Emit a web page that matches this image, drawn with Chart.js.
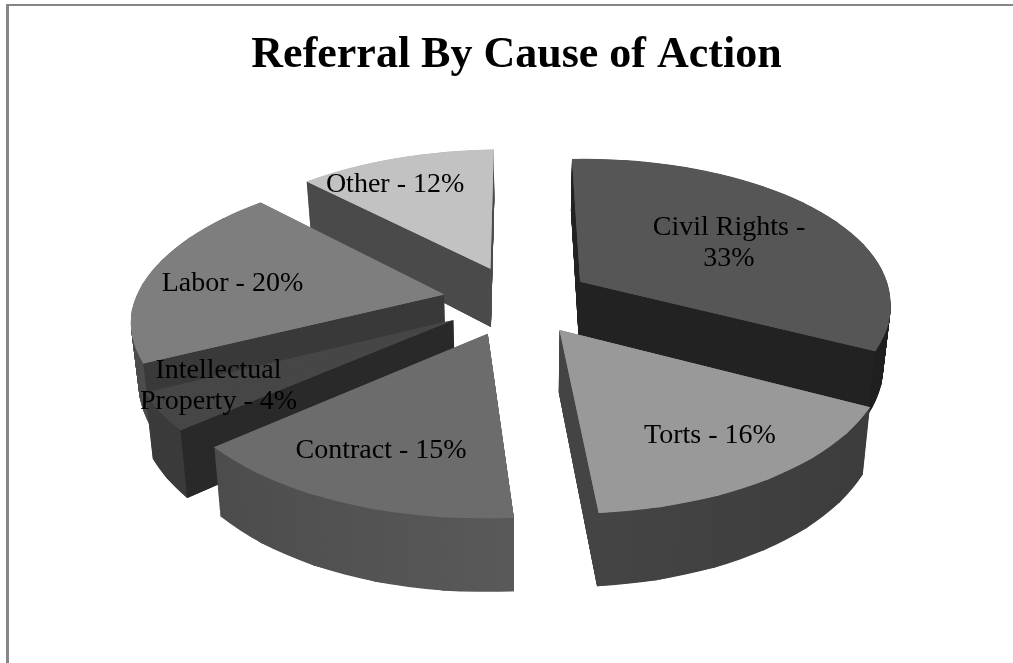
<!DOCTYPE html>
<html>
<head>
<meta charset="utf-8">
<script src="https://cdn.jsdelivr.net/npm/chart.js@4"></script>
<style>
  html, body { margin: 0; padding: 0; background: #fff; }
  #frame { position: absolute; left: 6px; top: 4px; width: 1007px; height: 659px; border-top: 2px solid #868686; border-left: 3px solid #868686; box-sizing: border-box; }
  #wrap { position: absolute; left: 0; top: 0; width: 1013px; height: 663px; }
</style>
</head>
<body>
<div id="frame"></div>
<div id="wrap"><canvas id="pieChart" width="1013" height="663"></canvas></div>
<script>
const titleText = 'Referral By Cause of Action';
const categories = ['Civil Rights', 'Torts', 'Contract', 'Intellectual Property', 'Labor', 'Other'];
const shares = [33, 16, 15, 4, 20, 12];
const labelLines = [['Civil Rights -', '33%'], ['Torts - 16%'], ['Contract - 15%'], ['Intellectual', 'Property - 4%'], ['Labor - 20%'], ['Other - 12%']];

const topColors = ['#565656', '#999999', '#6c6c6c', '#464646', '#7e7e7e', '#c2c2c2'];
const faceColors = ['#222222', '#444444', '#3c3c3c', '#292929', '#393939', '#4a4a4a'];
const rimLeft = ['#2c2c2c', '#505050', '#474747', '#3c3c3c', '#4a4a4a', '#555555'];
const rimRight = ['#1e1e1e', '#3a3a3a', '#6a6a6a', '#2e2e2e', '#5e5e5e', '#555555'];
// 라벨 위치 미세 조정 (화면 px)
const labelNudge = [[-4, 6], [27, 19], [-21, 19], [-59, 11], [-28, 3], [-34, -12]];

// 원근 투영 값
const cam = { cx: 517, cy: 300, a: 311, b: 146, p: 0.15, h: 60, explode: 0.24, shear: 0.02, roll: -4, lean: 0.02 };

const project = (x, y, z) => {
    const w = 1 / (1 - cam.p * y);
    const sx = cam.a * (x + cam.shear * Math.max(y, 0)) * w * (1 - cam.lean * z);
    return { x: cam.cx + sx, y: cam.cy + cam.b * y * w + z * cam.h * w + cam.roll * x };
};

// 조각의 원형 좌표 -> 화면 좌표 변환 (꼭짓점 3개로 affine 계산)
const sliceMatrix = (el, a0, a1, z) => {
    const R = el.outerRadius;
    const mid = (el.startAngle + el.endAngle) / 2;
    const ox = Math.cos(mid) * cam.explode;
    const oy = Math.sin(mid) * cam.explode;
    const q0 = project(ox, oy, z);
    const q1 = project(ox + Math.cos(a0), oy + Math.sin(a0), z);
    const q2 = project(ox + Math.cos(a1), oy + Math.sin(a1), z);
    const u1 = Math.cos(a0) * R, v1 = Math.sin(a0) * R;
    const u2 = Math.cos(a1) * R, v2 = Math.sin(a1) * R;
    const det = u1 * v2 - u2 * v1;
    const a = ((q1.x - q0.x) * v2 - (q2.x - q0.x) * v1) / det;
    const c = ((q2.x - q0.x) * u1 - (q1.x - q0.x) * u2) / det;
    const b = ((q1.y - q0.y) * v2 - (q2.y - q0.y) * v1) / det;
    const d = ((q2.y - q0.y) * u1 - (q1.y - q0.y) * u2) / det;
    return [a, b, c, d, q0.x - a * el.x - c * el.y, q0.y - b * el.x - d * el.y];
};

// 넓은 조각은 잘게 나눠서 그린다 (원근 곡선 근사)
const drawSlice = (ctx, el, z, fill) => {
    const steps = Math.max(1, Math.ceil((el.endAngle - el.startAngle) / 0.2));
    const size = (el.endAngle - el.startAngle) / steps;

    // 조각 사이 틈이 보이지 않게 같은 색으로 바닥을 먼저 깐다
    const mid = (el.startAngle + el.endAngle) / 2;
    const ox = Math.cos(mid) * cam.explode;
    const oy = Math.sin(mid) * cam.explode;
    const apex = project(ox, oy, z);
    ctx.save();
    ctx.fillStyle = fill;
    ctx.beginPath();
    ctx.moveTo(apex.x, apex.y);
    for (let s = 0; s <= steps; s++) {
        const a = el.startAngle + s * size;
        const p = project(ox + Math.cos(a), oy + Math.sin(a), z);
        ctx.lineTo(p.x, p.y);
    }
    ctx.closePath();
    ctx.fill();
    ctx.restore();

    for (let s = 0; s < steps; s++) {
        const a0 = el.startAngle + s * size;
        const a1 = s === steps - 1 ? el.endAngle : a0 + size + 0.006;
        const copy = Object.create(el);
        copy.startAngle = a0;
        copy.endAngle = a1;
        copy.circumference = a1 - a0;
        copy.options = { ...el.options, backgroundColor: fill, borderWidth: 0 };
        ctx.save();
        ctx.setTransform(...sliceMatrix(el, a0, a1, z));
        copy.draw(ctx);
        ctx.restore();
    }
};

const drawFace = (ctx, el, angle, isEnd, color) => {
    const mid = (el.startAngle + el.endAngle) / 2;
    const ox = Math.cos(mid) * cam.explode;
    const oy = Math.sin(mid) * cam.explode;
    const ex = ox + Math.cos(angle), ey = oy + Math.sin(angle);
    const pts = [project(ox, oy, 0), project(ex, ey, 0), project(ex, ey, 1), project(ox, oy, 1)];
    let area = 0;
    pts.forEach((p, i) => {
        const n = pts[(i + 1) % 4];
        area += p.x * n.y - n.x * p.y;
    });
    // 바깥쪽을 향한 면만 그린다
    if ((isEnd && area < 0) || (!isEnd && area > 0)) return;
    ctx.fillStyle = color;
    ctx.beginPath();
    pts.forEach((p, i) => (i ? ctx.lineTo(p.x, p.y) : ctx.moveTo(p.x, p.y)));
    ctx.closePath();
    ctx.fill();
};

const pie3d = {
    id: 'pie3d',
    beforeDatasetDraw(chart, args) {
        const ctx = chart.ctx;
        const arcs = args.meta.data;
        const order = arcs.map((el, i) => i).sort((m, n) => {
            return Math.sin((arcs[m].startAngle + arcs[m].endAngle) / 2) - Math.sin((arcs[n].startAngle + arcs[n].endAngle) / 2);
        });
        order.forEach(i => {
            const el = arcs[i];
            const grad = ctx.createLinearGradient(cam.cx - cam.a, 0, cam.cx + cam.a, 0);
            grad.addColorStop(0, rimLeft[i]);
            grad.addColorStop(1, rimRight[i]);
            for (let z = 1; z > 0; z -= 0.015) {
                drawSlice(ctx, el, z, grad);
            }
            drawFace(ctx, el, el.startAngle, false, faceColors[i]);
            drawFace(ctx, el, el.endAngle, true, faceColors[i]);
            drawSlice(ctx, el, 0, topColors[i]);
        });
        return false;
    },
    afterDatasetsDraw(chart) {
        const ctx = chart.ctx;
        ctx.save();
        ctx.fillStyle = '#000';
        ctx.font = '28px "Liberation Serif"';
        ctx.textAlign = 'center';
        ctx.textBaseline = 'middle';
        chart.getDatasetMeta(0).data.forEach((el, i) => {
            const mid = (el.startAngle + el.endAngle) / 2;
            const r = 0.62 + cam.explode;
            const pos = project(Math.cos(mid) * r, Math.sin(mid) * r, 0);
            labelLines[i].forEach((line, n) => {
                const off = (n - (labelLines[i].length - 1) / 2) * 31;
                ctx.fillText(line, pos.x + labelNudge[i][0], pos.y + labelNudge[i][1] + off);
            });
        });
        ctx.restore();
    }
};

new Chart(document.querySelector('#pieChart'), {
    type: 'pie',
    data: {
        labels: categories,
        datasets: [{ data: shares, backgroundColor: topColors, borderWidth: 0 }]
    },
    options: {
        responsive: false,
        animation: false,
        layout: { padding: { left: 20 } },
        plugins: {
            legend: { display: false },
            tooltip: { enabled: false },
            title: {
                display: true,
                text: titleText,
                color: '#000',
                font: { family: '"Liberation Serif"', size: 44, weight: 'bold' },
                padding: { top: 29, bottom: 10 }
            }
        }
    },
    plugins: [pie3d]
});
</script>
</body>
</html>
